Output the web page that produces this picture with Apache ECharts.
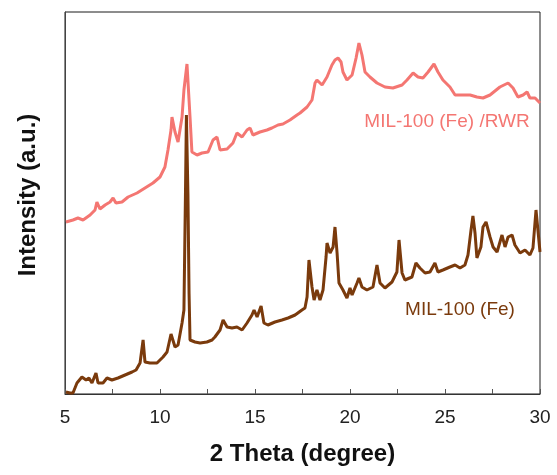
<!DOCTYPE html>
<html>
<head>
<meta charset="utf-8">
<script src="https://cdn.jsdelivr.net/npm/echarts@6/dist/echarts.min.js"></script>
<style>
  html, body { margin: 0; padding: 0; background: #fff; }
  #chart { width: 557px; height: 475px; }
</style>
</head>
<body>
<div id="chart"></div>
<script>
// XRD patterns: 2θ (degree) and stacked intensity (a.u.)
const rwrTheta = [5.05,5.42,5.68,5.95,6.32,6.58,6.68,6.84,7.11,7.37,7.53,7.68,8.0,8.32,8.79,9.21,9.63,10.0,10.26,10.42,10.58,10.63,10.79,10.95,11.16,11.26,11.42,11.58,11.68,11.95,12.21,12.53,12.79,13.0,13.16,13.53,13.84,14.05,14.32,14.58,14.74,14.89,15.26,15.63,15.89,16.21,16.47,16.84,17.21,17.37,17.74,18.0,18.16,18.26,18.53,18.79,19.05,19.21,19.37,19.53,19.63,19.84,20.11,20.32,20.47,20.63,20.79,21.05,21.42,21.84,22.26,22.74,23.0,23.32,23.58,23.84,24.11,24.42,24.63,24.89,25.26,25.53,25.95,26.32,26.68,27.0,27.37,27.89,28.32,28.58,28.84,29.11,29.32,29.47,29.74,30.0];
const rwrIntensity = [172,174,176,174,179,184,192,185,189,192,196,191,192,197,201,206,211,217,227,244,264,277,262,252,277,304,330,277,242,239,241,242,254,257,244,245,251,261,257,264,266,259,262,264,266,269,270,274,279,281,287,294,311,314,309,317,329,334,336,332,322,314,319,336,351,339,322,317,311,307,306,309,314,321,317,316,322,330,322,314,307,299,299,299,297,296,299,307,311,306,297,299,302,296,296,291];

const milTheta = [5.05,5.26,5.42,5.63,5.89,6.11,6.26,6.42,6.63,6.74,7.0,7.21,7.47,7.79,8.16,8.53,8.74,8.95,9.11,9.21,9.47,9.84,10.16,10.37,10.58,10.79,10.95,11.16,11.26,11.34,11.39,11.47,11.53,11.58,11.84,12.11,12.47,12.74,12.89,13.16,13.32,13.53,13.79,14.05,14.32,14.58,14.84,14.95,15.11,15.32,15.47,15.68,16.05,16.42,16.74,17.11,17.47,17.63,17.74,17.84,18.0,18.11,18.26,18.42,18.58,18.74,18.79,18.95,19.11,19.21,19.32,19.42,19.63,19.84,20.0,20.11,20.37,20.47,20.63,20.89,21.21,21.42,21.58,21.84,22.21,22.47,22.58,22.74,22.89,23.26,23.47,23.68,23.95,24.21,24.47,24.63,24.89,25.26,25.53,25.79,26.05,26.21,26.37,26.47,26.58,26.68,26.89,27.0,27.16,27.37,27.53,27.74,28.0,28.16,28.32,28.53,28.68,28.95,29.21,29.47,29.63,29.79,29.89,30.0];
const milIntensity = [2,1,1,11,17,14,16,11,21,11,11,16,14,16,19,22,24,31,54,32,31,31,37,42,60,47,49,71,84,200,279,200,100,54,52,51,52,54,57,64,74,67,66,67,64,71,79,84,77,88,71,69,72,74,76,79,84,86,97,134,107,94,104,94,104,137,151,141,147,167,141,111,104,96,106,99,111,116,107,104,107,129,111,106,112,122,154,121,114,117,131,126,121,122,131,122,124,127,129,126,129,139,164,178,161,136,147,167,172,157,147,142,159,147,157,159,149,141,144,139,146,184,164,142];

const xTicks = [5, 10, 15, 20, 25, 30];
const seriesNames = ['MIL-100 (Fe) /RWR', 'MIL-100 (Fe)'];
const seriesColors = ['#f47672', '#7a3a0c'];

const pair = (xs, ys) => xs.map((x, i) => [x, ys[i]]);

const chart = echarts.init(document.getElementById('chart'), null, { renderer: 'canvas' });
chart.setOption({
  animation: false,
  backgroundColor: '#ffffff',
  grid: { left: 65, right: 17, top: 12, bottom: 81, show: true, borderColor: '#1a1a1a', borderWidth: 1 },
  xAxis: {
    type: 'value',
    min: xTicks[0],
    max: xTicks[xTicks.length - 1],
    interval: 5,
    name: '2 Theta (degree)',
    nameLocation: 'middle',
    nameGap: 48,
    nameTextStyle: { fontFamily: 'Liberation Sans', fontWeight: 'bold', fontSize: 24, color: '#111' },
    axisLine: { lineStyle: { color: '#333', width: 1 } },
    axisTick: { inside: true, length: 5, lineStyle: { color: '#555' } },
    minorTick: { show: true, splitNumber: 2, length: 5, lineStyle: { color: '#555' } },
    axisLabel: { fontFamily: 'Liberation Sans', fontSize: 19, color: '#222', margin: 14 },
    splitLine: { show: false }
  },
  yAxis: {
    type: 'value',
    min: 0,
    max: 382,
    axisLine: { show: true, lineStyle: { color: '#444', width: 1 } },
    axisTick: { show: false },
    axisLabel: { show: false },
    splitLine: { show: false }
  },
  graphic: [
    {
      type: 'text',
      x: 28, y: 195,
      rotation: Math.PI / 2,
      style: {
        text: 'Intensity (a.u.)',
        font: 'bold 24px "Liberation Sans"',
        fill: '#111',
        align: 'center',
        verticalAlign: 'middle'
      }
    },
    {
      type: 'text',
      x: 447, y: 122,
      style: {
        text: seriesNames[0],
        font: '19px "Liberation Sans"',
        fill: seriesColors[0],
        align: 'center',
        verticalAlign: 'middle'
      }
    },
    {
      type: 'text',
      x: 460, y: 310,
      style: {
        text: seriesNames[1],
        font: '19px "Liberation Sans"',
        fill: seriesColors[1],
        align: 'center',
        verticalAlign: 'middle'
      }
    }
  ],
  series: [
    {
      name: seriesNames[0],
      type: 'line',
      data: pair(rwrTheta, rwrIntensity),
      showSymbol: false,
      lineStyle: { color: seriesColors[0], width: 3 },
      z: 2
    },
    {
      name: seriesNames[1],
      type: 'line',
      data: pair(milTheta, milIntensity),
      showSymbol: false,
      lineStyle: { color: seriesColors[1], width: 3 },
      z: 3
    }
  ]
});
</script>
</body>
</html>
